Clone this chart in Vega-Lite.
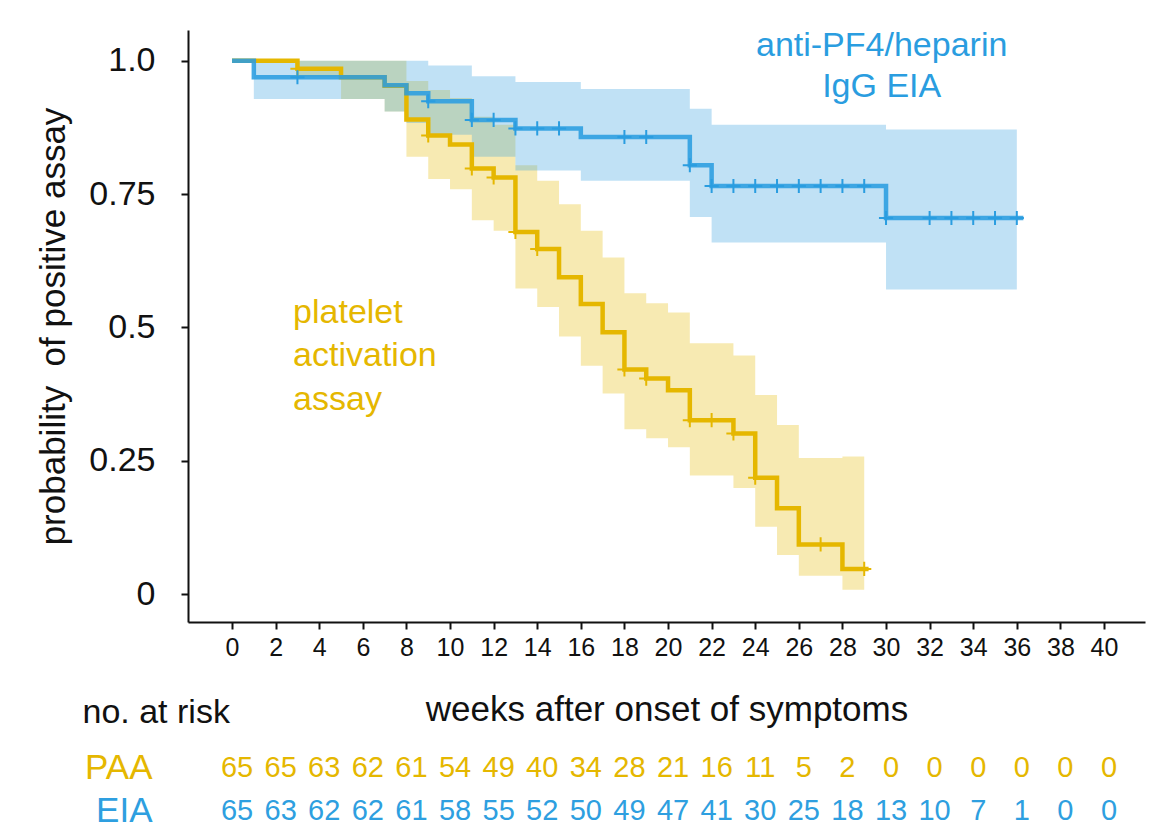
{
  "$schema": "https://vega.github.io/schema/vega-lite/v6.json",
  "background": "white",
  "padding": {"left": 36, "top": 29, "right": 5, "bottom": 5},
  "bounds": "flush",
  "spacing": 124,
  "config": {
    "view": {"stroke": null},
    "font": "Liberation Sans",
    "axis": {"grid": false, "domainColor": "#111", "tickColor": "#111", "labelColor": "#111", "titleColor": "#111", "titleFontWeight": "normal"}
  },
  "datasets": {
    "km": [
      {"group": "PAA", "week": 0, "surv": 1.0},
      {"group": "PAA", "week": 3, "surv": 0.985},
      {"group": "PAA", "week": 5, "surv": 0.969},
      {"group": "PAA", "week": 7, "surv": 0.953},
      {"group": "PAA", "week": 8, "surv": 0.89},
      {"group": "PAA", "week": 9, "surv": 0.86},
      {"group": "PAA", "week": 10, "surv": 0.843},
      {"group": "PAA", "week": 11, "surv": 0.798},
      {"group": "PAA", "week": 12, "surv": 0.781},
      {"group": "PAA", "week": 13, "surv": 0.679},
      {"group": "PAA", "week": 14, "surv": 0.647},
      {"group": "PAA", "week": 15, "surv": 0.594},
      {"group": "PAA", "week": 16, "surv": 0.544},
      {"group": "PAA", "week": 17, "surv": 0.491},
      {"group": "PAA", "week": 18, "surv": 0.421},
      {"group": "PAA", "week": 19, "surv": 0.404},
      {"group": "PAA", "week": 20, "surv": 0.382},
      {"group": "PAA", "week": 21, "surv": 0.326},
      {"group": "PAA", "week": 23, "surv": 0.301},
      {"group": "PAA", "week": 24, "surv": 0.218},
      {"group": "PAA", "week": 25, "surv": 0.161},
      {"group": "PAA", "week": 26, "surv": 0.093},
      {"group": "PAA", "week": 28, "surv": 0.047},
      {"group": "PAA", "week": 29.2, "surv": 0.047},
      {"group": "EIA", "week": 0, "surv": 1.0},
      {"group": "EIA", "week": 1, "surv": 0.969},
      {"group": "EIA", "week": 7, "surv": 0.954},
      {"group": "EIA", "week": 8, "surv": 0.939},
      {"group": "EIA", "week": 9, "surv": 0.924},
      {"group": "EIA", "week": 11, "surv": 0.889},
      {"group": "EIA", "week": 13, "surv": 0.873},
      {"group": "EIA", "week": 16, "surv": 0.857},
      {"group": "EIA", "week": 21, "surv": 0.804},
      {"group": "EIA", "week": 22, "surv": 0.765},
      {"group": "EIA", "week": 30, "surv": 0.705},
      {"group": "EIA", "week": 36.3, "surv": 0.705}
    ],
    "band": [
      {"group": "PAA", "week": 3, "lo": 0.97, "hi": 1.0},
      {"group": "PAA", "week": 5, "lo": 0.928, "hi": 1.0},
      {"group": "PAA", "week": 7, "lo": 0.905, "hi": 1.0},
      {"group": "PAA", "week": 8, "lo": 0.82, "hi": 0.962},
      {"group": "PAA", "week": 9, "lo": 0.778, "hi": 0.945},
      {"group": "PAA", "week": 10, "lo": 0.759, "hi": 0.93},
      {"group": "PAA", "week": 11, "lo": 0.701, "hi": 0.895},
      {"group": "PAA", "week": 12, "lo": 0.681, "hi": 0.88},
      {"group": "PAA", "week": 13, "lo": 0.573, "hi": 0.804},
      {"group": "PAA", "week": 14, "lo": 0.538, "hi": 0.775},
      {"group": "PAA", "week": 15, "lo": 0.483, "hi": 0.731},
      {"group": "PAA", "week": 16, "lo": 0.428, "hi": 0.681},
      {"group": "PAA", "week": 17, "lo": 0.376, "hi": 0.631},
      {"group": "PAA", "week": 18, "lo": 0.309, "hi": 0.564},
      {"group": "PAA", "week": 19, "lo": 0.292, "hi": 0.545},
      {"group": "PAA", "week": 20, "lo": 0.275, "hi": 0.528},
      {"group": "PAA", "week": 21, "lo": 0.222, "hi": 0.47},
      {"group": "PAA", "week": 23, "lo": 0.199, "hi": 0.447},
      {"group": "PAA", "week": 24, "lo": 0.126, "hi": 0.373},
      {"group": "PAA", "week": 25, "lo": 0.073, "hi": 0.317},
      {"group": "PAA", "week": 26, "lo": 0.034, "hi": 0.255},
      {"group": "PAA", "week": 28, "lo": 0.008, "hi": 0.258},
      {"group": "PAA", "week": 29, "lo": 0.008, "hi": 0.258},
      {"group": "EIA", "week": 1, "lo": 0.928, "hi": 1.0},
      {"group": "EIA", "week": 7, "lo": 0.905, "hi": 1.0},
      {"group": "EIA", "week": 8, "lo": 0.883, "hi": 1.0},
      {"group": "EIA", "week": 9, "lo": 0.861, "hi": 0.991},
      {"group": "EIA", "week": 11, "lo": 0.82, "hi": 0.971},
      {"group": "EIA", "week": 13, "lo": 0.794, "hi": 0.96},
      {"group": "EIA", "week": 16, "lo": 0.775, "hi": 0.947},
      {"group": "EIA", "week": 21, "lo": 0.707, "hi": 0.91},
      {"group": "EIA", "week": 22, "lo": 0.659, "hi": 0.88},
      {"group": "EIA", "week": 30, "lo": 0.571, "hi": 0.871},
      {"group": "EIA", "week": 36, "lo": 0.571, "hi": 0.871}
    ],
    "cens": [
      {"group": "PAA", "week": 3, "surv": 0.985},
      {"group": "PAA", "week": 9, "surv": 0.86},
      {"group": "PAA", "week": 11, "surv": 0.798},
      {"group": "PAA", "week": 12, "surv": 0.781},
      {"group": "PAA", "week": 13, "surv": 0.679},
      {"group": "PAA", "week": 14, "surv": 0.647},
      {"group": "PAA", "week": 18, "surv": 0.421},
      {"group": "PAA", "week": 19, "surv": 0.404},
      {"group": "PAA", "week": 21, "surv": 0.326},
      {"group": "PAA", "week": 22, "surv": 0.326},
      {"group": "PAA", "week": 23, "surv": 0.301},
      {"group": "PAA", "week": 24, "surv": 0.218},
      {"group": "PAA", "week": 27, "surv": 0.093},
      {"group": "PAA", "week": 29, "surv": 0.047},
      {"group": "EIA", "week": 3, "surv": 0.969},
      {"group": "EIA", "week": 9, "surv": 0.924},
      {"group": "EIA", "week": 11, "surv": 0.889},
      {"group": "EIA", "week": 12, "surv": 0.889},
      {"group": "EIA", "week": 13, "surv": 0.873},
      {"group": "EIA", "week": 14, "surv": 0.873},
      {"group": "EIA", "week": 15, "surv": 0.873},
      {"group": "EIA", "week": 18, "surv": 0.857},
      {"group": "EIA", "week": 19, "surv": 0.857},
      {"group": "EIA", "week": 21, "surv": 0.804},
      {"group": "EIA", "week": 22, "surv": 0.765},
      {"group": "EIA", "week": 23, "surv": 0.765},
      {"group": "EIA", "week": 24, "surv": 0.765},
      {"group": "EIA", "week": 25, "surv": 0.765},
      {"group": "EIA", "week": 26, "surv": 0.765},
      {"group": "EIA", "week": 27, "surv": 0.765},
      {"group": "EIA", "week": 28, "surv": 0.765},
      {"group": "EIA", "week": 29, "surv": 0.765},
      {"group": "EIA", "week": 30, "surv": 0.705},
      {"group": "EIA", "week": 32, "surv": 0.705},
      {"group": "EIA", "week": 33, "surv": 0.705},
      {"group": "EIA", "week": 34, "surv": 0.705},
      {"group": "EIA", "week": 35, "surv": 0.705},
      {"group": "EIA", "week": 36, "surv": 0.705}
    ],
    "risk": [
      {"group": "PAA", "week": 0, "n": 65},
      {"group": "PAA", "week": 2, "n": 65},
      {"group": "PAA", "week": 4, "n": 63},
      {"group": "PAA", "week": 6, "n": 62},
      {"group": "PAA", "week": 8, "n": 61},
      {"group": "PAA", "week": 10, "n": 54},
      {"group": "PAA", "week": 12, "n": 49},
      {"group": "PAA", "week": 14, "n": 40},
      {"group": "PAA", "week": 16, "n": 34},
      {"group": "PAA", "week": 18, "n": 28},
      {"group": "PAA", "week": 20, "n": 21},
      {"group": "PAA", "week": 22, "n": 16},
      {"group": "PAA", "week": 24, "n": 11},
      {"group": "PAA", "week": 26, "n": 5},
      {"group": "PAA", "week": 28, "n": 2},
      {"group": "PAA", "week": 30, "n": 0},
      {"group": "PAA", "week": 32, "n": 0},
      {"group": "PAA", "week": 34, "n": 0},
      {"group": "PAA", "week": 36, "n": 0},
      {"group": "PAA", "week": 38, "n": 0},
      {"group": "PAA", "week": 40, "n": 0},
      {"group": "EIA", "week": 0, "n": 65},
      {"group": "EIA", "week": 2, "n": 63},
      {"group": "EIA", "week": 4, "n": 62},
      {"group": "EIA", "week": 6, "n": 62},
      {"group": "EIA", "week": 8, "n": 61},
      {"group": "EIA", "week": 10, "n": 58},
      {"group": "EIA", "week": 12, "n": 55},
      {"group": "EIA", "week": 14, "n": 52},
      {"group": "EIA", "week": 16, "n": 50},
      {"group": "EIA", "week": 18, "n": 49},
      {"group": "EIA", "week": 20, "n": 47},
      {"group": "EIA", "week": 22, "n": 41},
      {"group": "EIA", "week": 24, "n": 30},
      {"group": "EIA", "week": 26, "n": 25},
      {"group": "EIA", "week": 28, "n": 18},
      {"group": "EIA", "week": 30, "n": 13},
      {"group": "EIA", "week": 32, "n": 10},
      {"group": "EIA", "week": 34, "n": 7},
      {"group": "EIA", "week": 36, "n": 1},
      {"group": "EIA", "week": 38, "n": 0},
      {"group": "EIA", "week": 40, "n": 0}
    ],
    "labels": [
      {"series": "EIA"},
      {"series": "PAA"}
    ]
  },
  "vconcat": [
    {
      "width": 957,
      "height": 592,
      "layer": [
        {
          "data": {"name": "band"},
          "transform": [{"filter": "datum.group === 'PAA'"}],
          "mark": {"type": "area", "interpolate": "step-after", "color": "#e6b800", "opacity": 0.3},
          "encoding": {
            "x": {
              "field": "week", "type": "quantitative",
              "scale": {"domain": [-2.02, 41.88], "nice": false, "zero": false},
              "axis": {
                "values": [0, 2, 4, 6, 8, 10, 12, 14, 16, 18, 20, 22, 24, 26, 28, 30, 32, 34, 36, 38, 40],
                "title": "weeks after onset of symptoms",
                "titleFontSize": 35,
                "titleY": 98,
                "titleBaseline": "alphabetic",
                "labelFontSize": 25,
                "labelPadding": 6,
                "tickSize": 7,
                "tickWidth": 2,
                "domainWidth": 2
              }
            },
            "y": {
              "field": "lo", "type": "quantitative",
              "scale": {"domain": [-0.0525, 1.0576], "nice": false, "zero": false},
              "axis": {
                "values": [0, 0.25, 0.5, 0.75, 1],
                "labelExpr": "datum.value == 1 ? '1.0' : format(datum.value, '.2~f')",
                "title": "probability\u00a0 of positive assay",
                "titleFontSize": 35,
                "titleX": -124,
                "titleBaseline": "alphabetic",
                "labelFontSize": 34,
                "labelPadding": 26,
                "tickSize": 7,
                "tickWidth": 2,
                "domainWidth": 2
              }
            },
            "y2": {"field": "hi"}
          }
        },
        {
          "data": {"name": "band"},
          "transform": [{"filter": "datum.group === 'EIA'"}],
          "mark": {"type": "area", "interpolate": "step-after", "color": "#3ba3e0", "opacity": 0.32},
          "encoding": {
            "x": {"field": "week", "type": "quantitative"},
            "y": {"field": "lo", "type": "quantitative"},
            "y2": {"field": "hi"}
          }
        },
        {
          "data": {"name": "km"},
          "transform": [{"filter": "datum.group === 'PAA'"}],
          "mark": {"type": "line", "interpolate": "step-after", "color": "#e5b700", "strokeWidth": 4.5},
          "encoding": {
            "x": {"field": "week", "type": "quantitative"},
            "y": {"field": "surv", "type": "quantitative"}
          }
        },
        {
          "data": {"name": "km"},
          "transform": [{"filter": "datum.group === 'EIA'"}],
          "mark": {"type": "line", "interpolate": "step-after", "color": "#2a9de0", "strokeWidth": 4.5, "opacity": 0.88},
          "encoding": {
            "x": {"field": "week", "type": "quantitative"},
            "y": {"field": "surv", "type": "quantitative"}
          }
        },
        {
          "data": {"name": "cens"},
          "transform": [{"filter": "datum.group === 'PAA'"}],
          "mark": {"type": "point", "shape": "M0,-1V1M-1,0H1", "filled": false, "size": 200, "strokeWidth": 2, "color": "#e5b700", "opacity": 1},
          "encoding": {
            "x": {"field": "week", "type": "quantitative"},
            "y": {"field": "surv", "type": "quantitative"}
          }
        },
        {
          "data": {"name": "cens"},
          "transform": [{"filter": "datum.group === 'EIA'"}],
          "mark": {"type": "point", "shape": "M0,-1V1M-1,0H1", "filled": false, "size": 200, "strokeWidth": 2, "color": "#2a9de0", "opacity": 1},
          "encoding": {
            "x": {"field": "week", "type": "quantitative"},
            "y": {"field": "surv", "type": "quantitative"}
          }
        },
        {
          "data": {"name": "labels"},
          "transform": [{"filter": "datum.series === 'EIA'"}],
          "mark": {"type": "text", "text": ["anti-PF4/heparin", "IgG EIA"], "align": "center", "baseline": "alphabetic", "fontSize": 34, "lineHeight": 41, "color": "#2a9de0"},
          "encoding": {
            "x": {"datum": 29.8, "type": "quantitative"},
            "y": {"datum": 1.0088, "type": "quantitative"}
          }
        },
        {
          "data": {"name": "labels"},
          "transform": [{"filter": "datum.series === 'PAA'"}],
          "mark": {"type": "text", "text": ["platelet", "activation", "assay"], "align": "left", "baseline": "alphabetic", "fontSize": 34, "lineHeight": 43.5, "color": "#e5b700"},
          "encoding": {
            "x": {"datum": 2.8, "type": "quantitative"},
            "y": {"datum": 0.5084, "type": "quantitative"}
          }
        }
      ]
    },
    {
      "width": 957,
      "height": 86,
      "data": {"name": "risk"},
      "mark": {"type": "text", "font": "Liberation Sans", "fontSize": 29, "baseline": "middle", "dx": 5},
      "encoding": {
        "x": {
          "field": "week", "type": "quantitative",
          "scale": {"domain": [-2.02, 41.88], "nice": false, "zero": false},
          "axis": null
        },
        "y": {
          "field": "group", "type": "nominal", "sort": ["PAA", "EIA"],
          "axis": {
            "title": "no. at risk",
            "titleAngle": 0,
            "titleAlign": "left",
            "titleBaseline": "alphabetic",
            "titleX": -106,
            "titleY": -24,
            "titleFontSize": 34,
            "domain": false,
            "ticks": false,
            "labelFontSize": 35,
            "labelPadding": 36,
            "labelColor": {"condition": {"test": "datum.value === 'PAA'", "value": "#e5b700"}, "value": "#2e9fe0"}
          }
        },
        "text": {"field": "n", "type": "quantitative"},
        "color": {
          "field": "group", "type": "nominal",
          "scale": {"domain": ["PAA", "EIA"], "range": ["#e5b700", "#2e9fe0"]},
          "legend": null
        }
      }
    }
  ]
}
